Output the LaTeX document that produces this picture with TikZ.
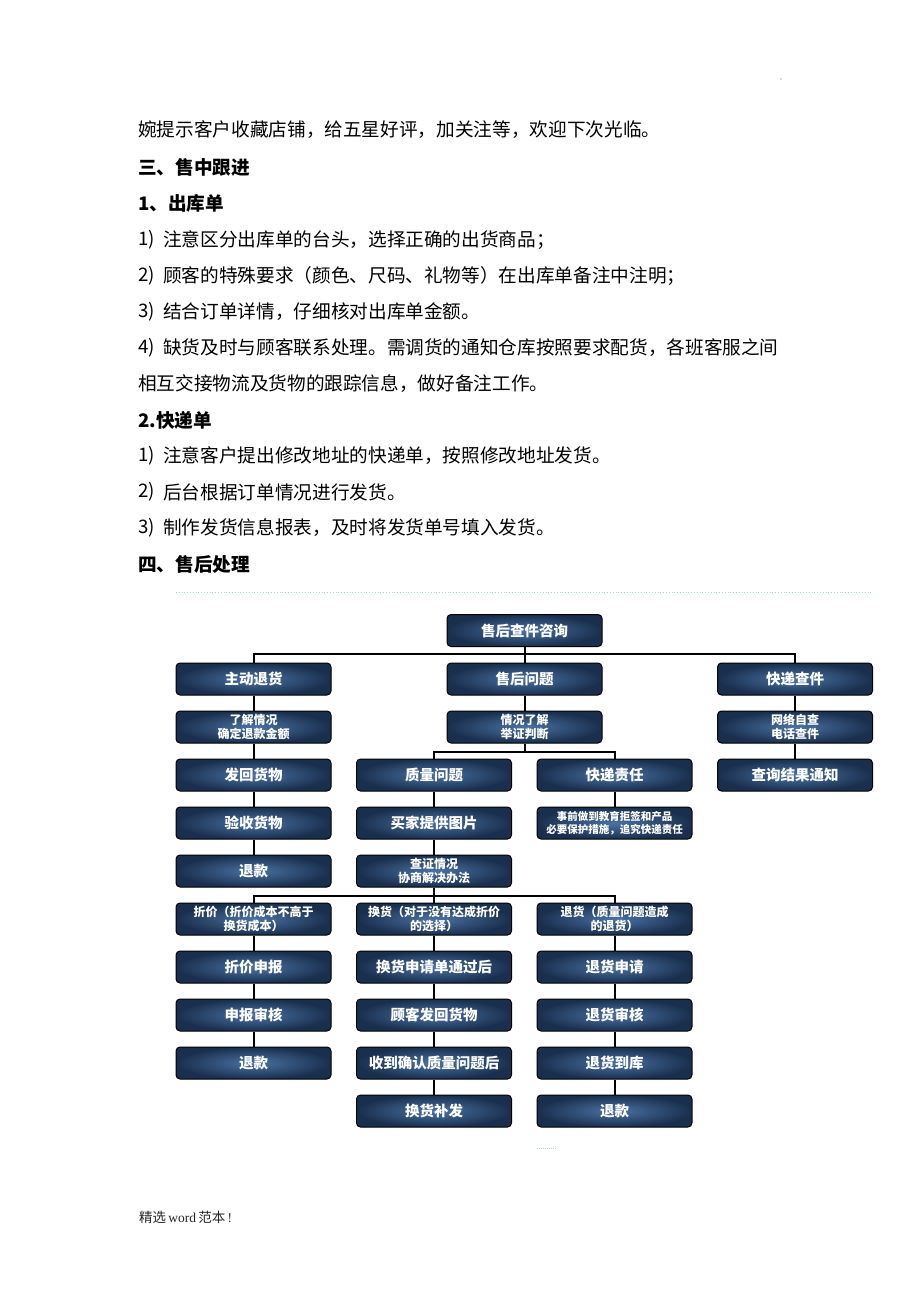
\documentclass[tikz,border=0pt]{standalone}
\usepackage{fontspec}
\setmainfont{Liberation Serif}
\newfontfamily\cjk{Noto Sans CJK SC}
\usetikzlibrary{positioning}
\definecolor{boxin}{HTML}{4A73A3}
\definecolor{boxout}{HTML}{1A2F4E}
\definecolor{dotc}{HTML}{A9D6CF}
\tikzset{
  box/.style={draw=black, line width=1pt, rounded corners=4pt,
    minimum width=155pt, minimum height=32pt, inner sep=1pt,
    inner color=boxin, outer color=boxout, text=white, align=center,
    font=\cjk\bfseries\fontsize{14.5}{16}\selectfont},
  boxtwo/.style={box, font=\cjk\bfseries\fontsize{12}{13.5}\selectfont},
  boxthree/.style={box, font=\cjk\bfseries\fontsize{10.5}{12.5}\selectfont},
  conn/.style={line width=2pt, black},
  body/.style={anchor=west, inner sep=0pt, font=\cjk\fontsize{18.65}{20}\selectfont},
  head/.style={anchor=west, inner sep=0pt, font=\cjk\bfseries\fontsize{18.65}{20}\selectfont}
}
\begin{document}
\begin{tikzpicture}[x=1pt,y=-1pt]
\useasboundingbox[fill=white] (0,0) rectangle (920,1302);
% header mark
\fill[black!60] (781,79) circle (0.7pt);
% text
\node[body] (t0) at (138,130) {婉提示客户收藏店铺，给五星好评，加关注等，欢迎下次光临。};
\node[head] (h1) at (138,167) {三、售中跟进};
\node[head] (h2) at (138,203) {1、出库单};
\node[body] (n1) at (138,240) {1)};
\node[body] (l1) at (163,240) {注意区分出库单的台头，选择正确的出货商品；};
\node[body] (n2) at (138,276) {2)};
\node[body] (l2) at (163,276) {顾客的特殊要求（颜色、尺码、礼物等）在出库单备注中注明；};
\node[body] (n3) at (138,312) {3)};
\node[body] (l3) at (163,312) {结合订单详情，仔细核对出库单金额。};
\node[body] (n4) at (138,348) {4)};
\node[body] (l4) at (163,348) {缺货及时与顾客联系处理。需调货的通知仓库按照要求配货，各班客服之间};
\node[body] (l5) at (138,384) {相互交接物流及货物的跟踪信息，做好备注工作。};
\node[head] (h3) at (138,420) {2.快递单};
\node[body] (n6) at (138,456) {1)};
\node[body] (l6) at (163,456) {注意客户提出修改地址的快递单，按照修改地址发货。};
\node[body] (n7) at (138,492) {2)};
\node[body] (l7) at (163,492) {后台根据订单情况进行发货。};
\node[body] (n8) at (138,528) {3)};
\node[body] (l8) at (163,528) {制作发货信息报表，及时将发货单号填入发货。};
\node[head] (h4) at (138,564) {四、售后处理};
% dotted rule
\draw[dotc, line width=0.8pt, dotted] (176,592) -- (873,592);
% boxes
\node[box] (r) at (524.5,630.5) {售后查件咨询};
\node[box] (a1) at (253.5,679) {主动退货};
\node[box] (b1) at (524.5,679) {售后问题};
\node[box] (c1) at (795,679) {快递查件};
\node[boxtwo] (a2) at (253.5,727) {了解情况\\确定退款金额};
\node[boxtwo] (b2) at (524.5,727) {情况了解\\举证判断};
\node[boxtwo] (c2) at (795,727) {网络自查\\电话查件};
\node[box] (a3) at (253.5,775) {发回货物};
\node[box] (m3) at (434,775) {质量问题};
\node[box] (k3) at (614.5,775) {快递责任};
\node[box] (c3) at (795,775) {查询结果通知};
\node[box] (a4) at (253.5,823) {验收货物};
\node[box] (m4) at (434,823) {买家提供图片};
\node[boxthree] (k4) at (614.5,823) {事前做到教育拒签和产品\\必要保护措施，追究快递责任};
\node[box] (a5) at (253.5,871) {退款};
\node[boxtwo] (m5) at (434,871) {查证情况\\协商解决办法};
\node[boxtwo] (p1) at (253.5,919) {折价（折价成本不高于\\换货成本）};
\node[boxtwo] (q1) at (434,919) {换货（对于没有达成折价\\的选择）};
\node[boxtwo] (s1) at (614.5,919) {退货（质量问题造成\\的退货）};
\node[box] (p2) at (253.5,967) {折价申报};
\node[box] (p3) at (253.5,1015) {申报审核};
\node[box] (p4) at (253.5,1063) {退款};
\node[box] (q2) at (434,967) {换货申请单通过后};
\node[box] (q3) at (434,1015) {顾客发回货物};
\node[box] (q4) at (434,1063) {收到确认质量问题后};
\node[box] (q5) at (434,1111) {换货补发};
\node[box] (s2) at (614.5,967) {退货申请};
\node[box] (s3) at (614.5,1015) {退货审核};
\node[box] (s4) at (614.5,1063) {退货到库};
\node[box] (s5) at (614.5,1111) {退款};
% connectors
\draw[conn] (r.south) -- ++(0,7) coordinate (j0);
\draw[conn] (a1.north) |- (j0) -| (c1.north);
\draw[conn] (j0) -- (b1.north);
\draw[conn] (a1.south) -- (a2.north);
\draw[conn] (a2.south) -- (a3.north);
\draw[conn] (a3.south) -- (a4.north);
\draw[conn] (a4.south) -- (a5.north);
\draw[conn] (b1.south) -- (b2.north);
\draw[conn] (b2.south) -- ++(0,8) coordinate (j1);
\draw[conn] (m3.north) |- (j1) -| (k3.north);
\draw[conn] (c1.south) -- (c2.north);
\draw[conn] (c2.south) -- (c3.north);
\draw[conn] (m3.south) -- (m4.north);
\draw[conn] (m4.south) -- (m5.north);
\draw[conn] (k3.south) -- (k4.north);
\draw[conn] (m5.south) -- ++(0,8) coordinate (j2);
\draw[conn] (p1.north) |- (j2) -| (s1.north);
\draw[conn] (j2) -- (q1.north);
\draw[conn] (p1.south) -- (p2.north);
\draw[conn] (p2.south) -- (p3.north);
\draw[conn] (p3.south) -- (p4.north);
\draw[conn] (q1.south) -- (q2.north);
\draw[conn] (q2.south) -- (q3.north);
\draw[conn] (q3.south) -- (q4.north);
\draw[conn] (q4.south) -- (q5.north);
\draw[conn] (s1.south) -- (s2.north);
\draw[conn] (s2.south) -- (s3.north);
\draw[conn] (s3.south) -- (s4.north);
\draw[conn] (s4.south) -- (s5.north);
% small mark under diagram
\draw[dotc, line width=1pt, densely dotted] (537,1148) -- (557,1148);
% footer
\node[anchor=west, inner sep=0pt, font=\fontsize{13.5}{15}\selectfont, text=black!85] (ft) at (139,1217) {{\cjk 精选}\,word\,{\cjk 范本}\,!};
\end{tikzpicture}
\end{document}
